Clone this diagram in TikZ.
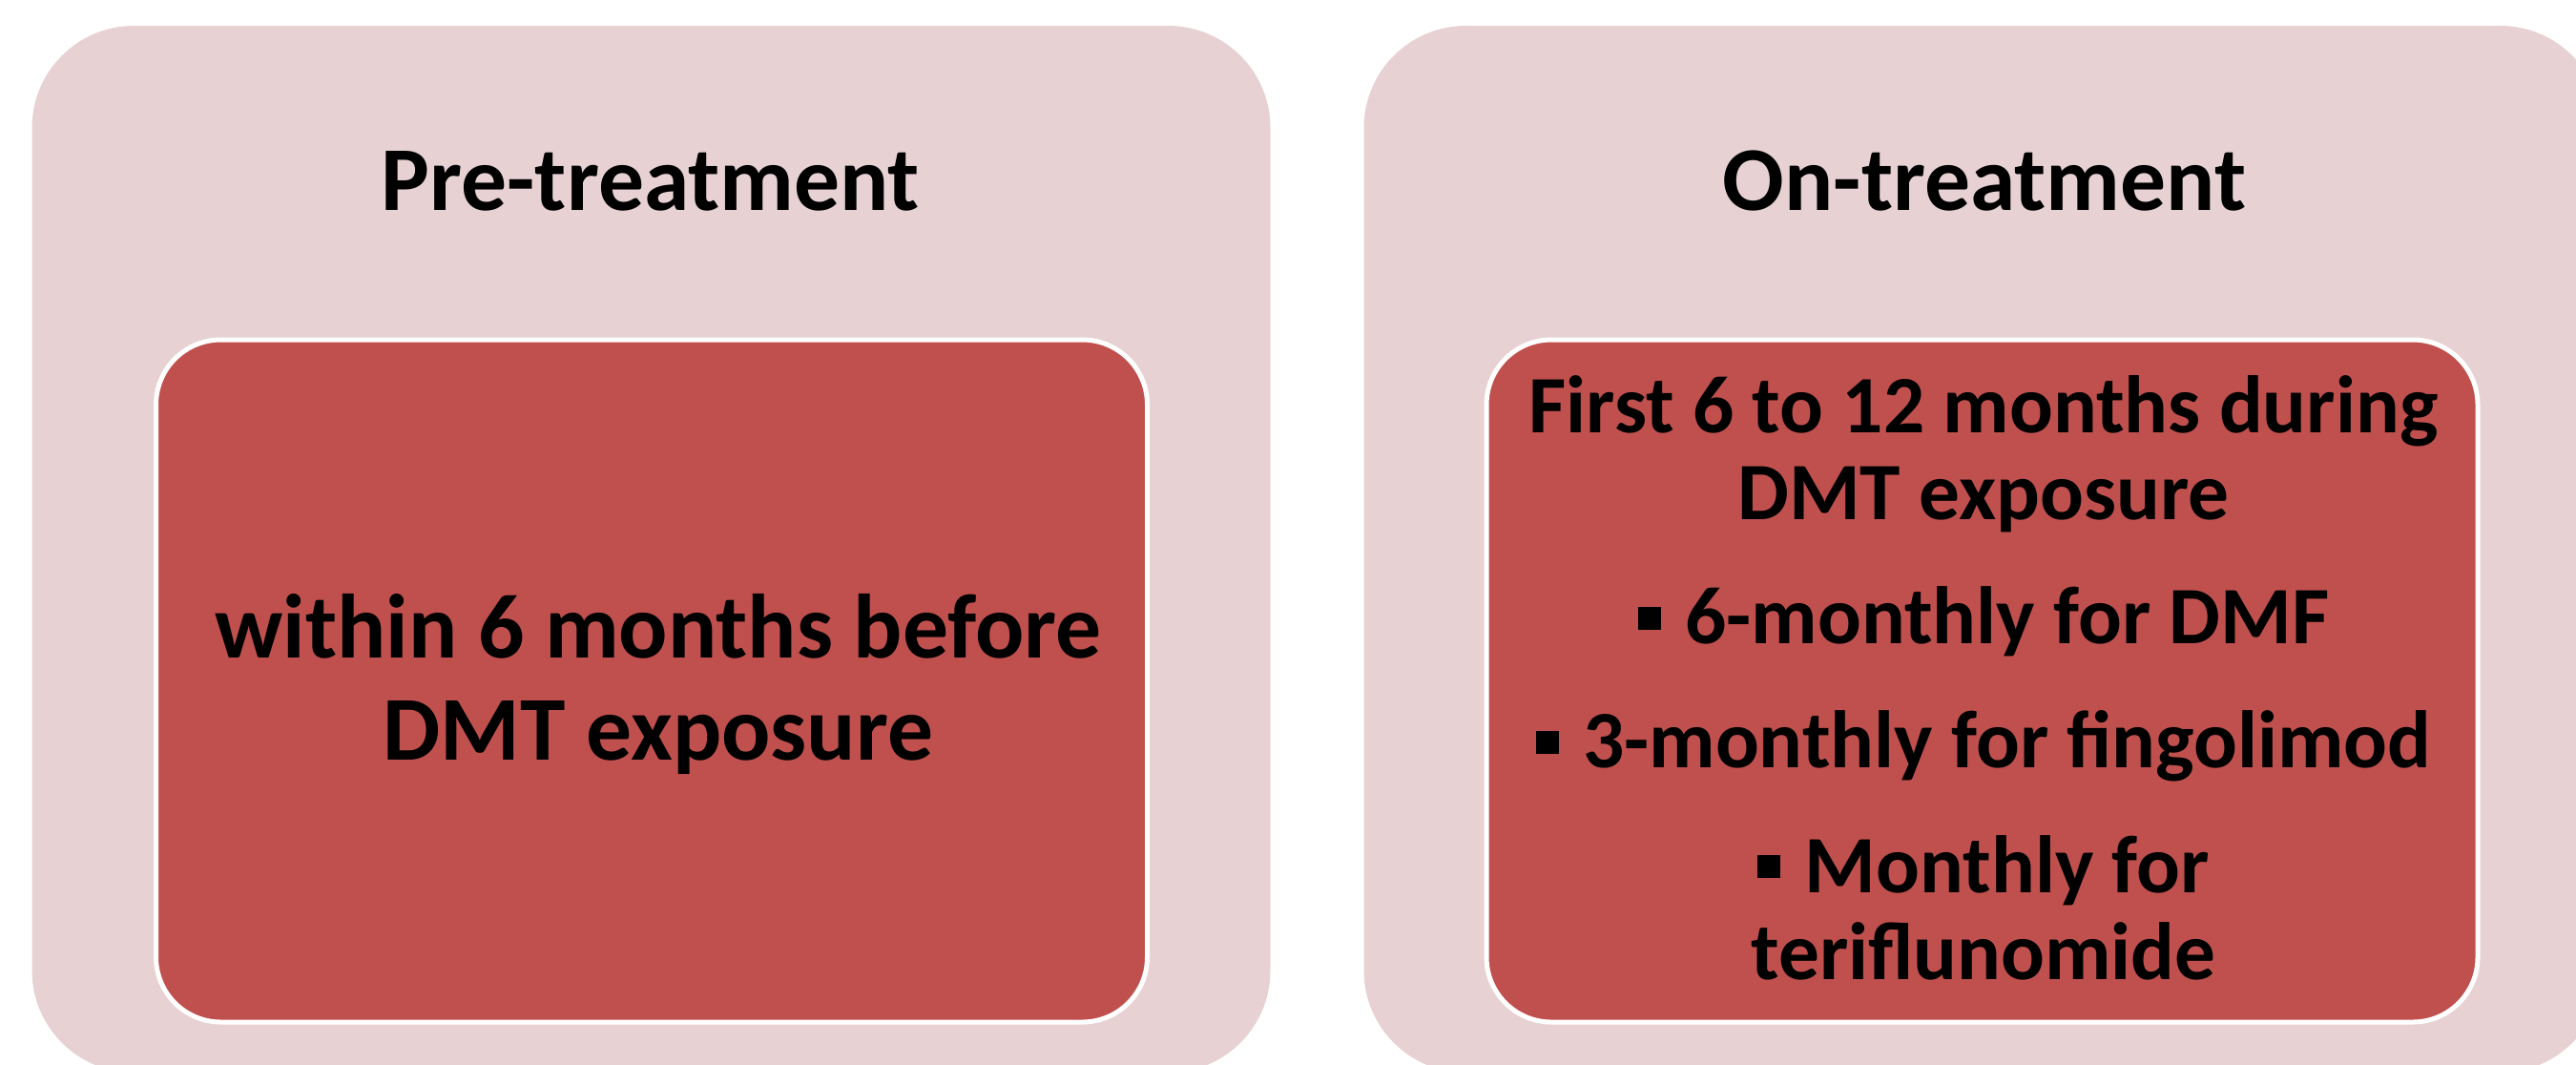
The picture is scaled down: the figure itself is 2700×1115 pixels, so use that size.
\documentclass[tikz,border=0pt]{standalone}
\usepackage{fontspec}
\setmainfont{Carlito}
\usepackage{tikz}
\usetikzlibrary{positioning}
\definecolor{panelbg}{RGB}{231,209,210}
\definecolor{cellred}{RGB}{192,80,77}
\tikzset{
  panel/.style={fill=panelbg,draw=none,rounded corners=10.7mm,inner sep=0pt,
                minimum width=129.8mm,minimum height=109.7mm},
  cell/.style={fill=cellred,draw=white,line width=0.5mm,rounded corners=6.8mm,
               inner sep=0pt,minimum width=103.9mm,minimum height=71.5mm},
  ttl/.style={font=\bfseries\fontsize{27.2}{32}\selectfont,anchor=base,inner sep=0pt},
  bodyl/.style={font=\bfseries\fontsize{27.2}{30.4}\selectfont,align=center,
                anchor=base,inner sep=0pt},
  bodyr/.style={font=\bfseries\fontsize{24.3}{25.9}\selectfont,align=center,
                anchor=base,inner sep=0pt},
}
\newcommand{\sqbul}{\rule[0.18em]{0.28em}{0.28em}\hspace{0.3em}}
\begin{document}
\begin{tikzpicture}[x=0.1mm,y=-0.1mm]
  \useasboundingbox (0,0) rectangle (2700,1115);
  \clip (0,0) rectangle (2700,1115);

  % outer panels
  \node[panel] (pre) at (682.5,575.5) {};
  \node[panel] (on)  at (2078.5,575.5) {};

  % inner cells
  \node[cell] (precell) at (683,713.5) {};
  \node[cell] (oncell)  at (2077.5,713.5) {};

  \node[ttl] (pretitle) at (682,220)  {Pre-treatment};
  \node[ttl] (ontitle)  at (2080,220) {On-treatment};

  % base anchor sits on the last line
  \node[bodyl] (pretext) at (690,796)
    {within 6 months before\\DMT exposure};
  \node[bodyr] (ontext) at (2079,1026)
    {First 6 to 12 months during\\DMT exposure\\[3.9mm]
     \sqbul 6-monthly for DMF\\[3.9mm]
     \sqbul 3-monthly for fingolimod\\[3.9mm]
     \sqbul Monthly for\\teriflunomide};
\end{tikzpicture}
\end{document}
